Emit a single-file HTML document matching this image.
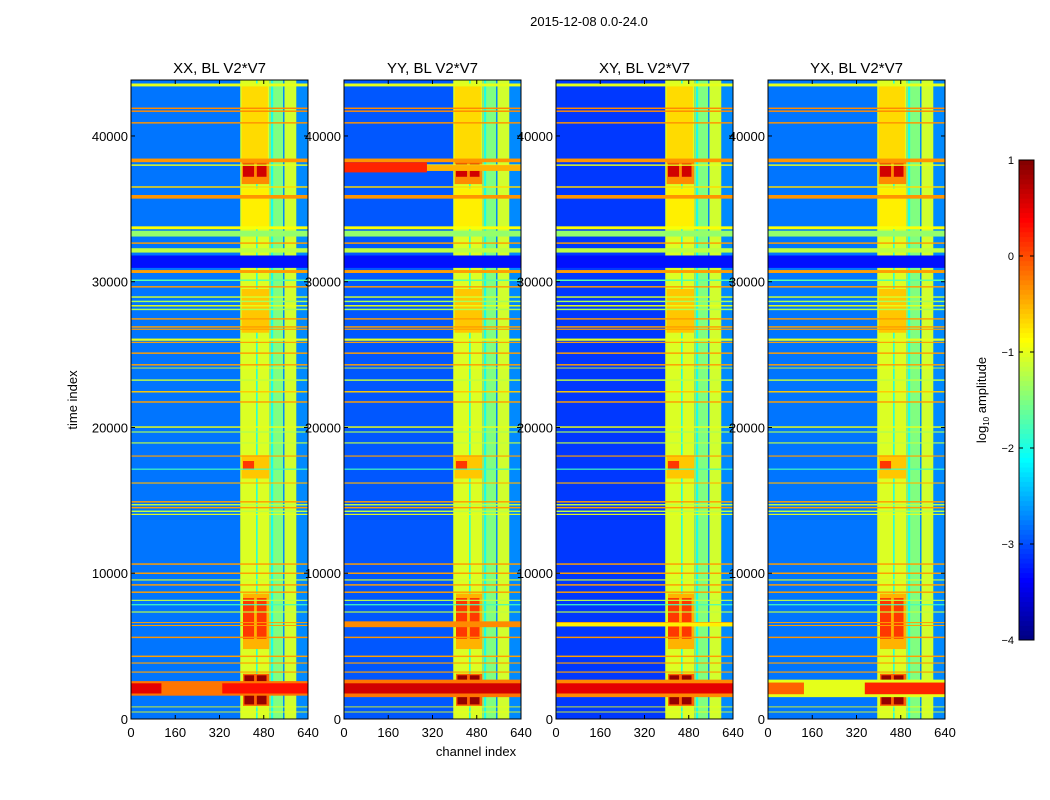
<!DOCTYPE html>
<html><head><meta charset="utf-8">
<style>
html,body{margin:0;padding:0;background:#fff;width:1050px;height:800px;overflow:hidden;font-family:"Liberation Sans",sans-serif;}
svg text{font-family:"Liberation Sans",sans-serif;}
</style></head>
<body>
<svg id="fig" width="1050" height="800" viewBox="0 0 1050 800" xmlns="http://www.w3.org/2000/svg">
<rect x="0" y="0" width="1050" height="800" fill="#fff"/>
<text x="589" y="26" font-size="13" text-anchor="middle">2015-12-08 0.0-24.0</text>
<text x="77" y="400" font-size="13" text-anchor="middle" transform="rotate(-90 77 400)">time index</text>
<text x="476" y="756" font-size="13" text-anchor="middle">channel index</text>
<g id="panels"></g>
<g id="cbar"></g>
</svg>
<script>
// ---- data ----
const panelTitles = ["XX, BL V2*V7","YY, BL V2*V7","XY, BL V2*V7","YX, BL V2*V7"];
const panelBackground = [-2.8, -2.95, -3.1, -2.8];
const xTicks = [0,160,320,480,640];
const yTicks = [0,10000,20000,30000,40000];
const cbarTicks = [1,0,-1,-2,-3,-4];
// channel columns: [ch0, ch1, log amplitude]
const columns = [[395,500,-1.05],[500,512,-1.5],[505,511,-0.5],[512,550,-1.5],[555,598,-1.1],[598,640,-2.7]];
const columnGaps = [[452,458,-1.9],[506,514,-2.0],[550,555,-2.7]];
// blocks inside columns: [ch0, ch1, t0, t1, level]
const blocks = [
 [400,495,38400,43600,-0.7],[400,500,36700,38300,-0.3],[405,445,37200,38100,0.6],[455,490,37200,38100,0.6],
 [400,500,33800,36400,-0.8],[400,500,26500,29500,-0.6],[400,500,16500,18100,-0.6],[405,445,17100,17700,0.1],
 [405,500,4800,8600,-0.5],[405,445,5500,8300,0.1],[455,490,5500,8300,0.1],[405,500,900,3100,-0.1],[410,445,1000,3000,0.9],[455,490,1000,3000,0.9]
];
// full-width time bands: [t0, t1, level]
const bands = [
 [43400,43600,-1.0],[41850,41950,-0.3],[41650,41750,-0.3],[40850,40950,-0.35],[38200,38450,-0.35],[37950,38050,-1.0],
 [36450,36550,-0.7],[35700,35950,-0.35],[33600,33800,-0.9],[33100,33500,-1.4],[32600,32700,-0.4],[32000,32300,-1.2],
 [30950,31800,-3.3],[30600,30800,-0.4],[30050,30150,-1.7],[29600,29700,-0.4],[28900,29000,-1.1],[28600,28700,-1.3],
 [28300,28400,-1.0],[28050,28150,-1.3],[27400,27500,-0.4],[26850,26950,-0.4],[26700,26780,-0.4],[25950,26100,-1.0],
 [25800,25880,-0.4],[25050,25150,-0.4],[24250,24350,-0.4],[24050,24110,-1.0],[23200,23300,-1.2],[22400,22500,-0.6],
 [21700,21800,-0.4],[19980,20080,-1.0],[19650,19730,-1.3],[18900,18980,-1.2],[18000,18080,-0.4],[17100,17180,-1.8],
 [16150,16230,-0.5],[14850,14950,-0.4],[14650,14750,-1.2],[14450,14550,-0.4],[14200,14300,-1.2],[14000,14080,-1.0],
 [10580,10680,-0.4],[9950,10050,-0.4],[9500,9580,-1.1],[9150,9250,-0.4],[8650,8750,-0.4],[8100,8180,-1.2],
 [7800,7880,-1.8],[7300,7380,-1.2],[6580,6650,-0.4],[6380,6450,-0.4],[5550,5650,-0.35],[4250,4350,-0.4],
 [3800,3880,-0.4],[3180,3260,-0.4],[800,860,-1.0],[450,510,-1.0]
];
// per-panel blobs: [panel, ch0, ch1, t0, t1, level]
const blobs = [
 [0,0,640,1600,2600,-0.2],[0,0,110,1750,2450,0.5],[0,330,640,1750,2450,0.3],
 [1,0,640,1500,2700,-0.2],[1,0,640,1750,2450,0.6],[1,0,640,6300,6700,-0.3],[1,0,300,37500,38200,0.2],[1,300,640,37600,38000,-0.5],
 [2,0,640,1500,2700,-0.3],[2,0,640,1750,2450,0.5],[2,0,640,6350,6600,-0.8],
 [3,0,640,1500,2700,-1.0],[3,0,130,1700,2500,-0.1],[3,350,640,1700,2500,0.2]
];
// ---- geometry ----
const panelX = [131,344,556,768];
const PW = 177, PT = 80, PB = 719, TMAX = 43840, CMAX = 640;
const NS = "http://www.w3.org/2000/svg";
function clamp(v){return Math.max(0,Math.min(1,v));}
function jet(v){const t=clamp((v+4)/5);const r=clamp(1.5-Math.abs(4*t-3)),g=clamp(1.5-Math.abs(4*t-2)),b=clamp(1.5-Math.abs(4*t-1));
 return "rgb("+Math.round(r*255)+","+Math.round(g*255)+","+Math.round(b*255)+")";}
function mk(tag,attrs,parent){const e=document.createElementNS(NS,tag);for(const k in attrs)e.setAttribute(k,attrs[k]);parent.appendChild(e);return e;}
const panelsG=document.getElementById('panels');
panelTitles.forEach((title,p)=>{
 const x0=panelX[p];
 const xs=c=>x0+c/CMAX*PW;
 const ys=t=>PB-t/TMAX*(PB-PT);
 const g=mk('g',{},panelsG);
 
 
 const bg=mk('rect',{x:x0,y:PT,width:PW,height:PB-PT,fill:jet(panelBackground[p])},g);
 
 
 function cell(c0,c1,t0,t1,v,name){const r=mk('rect',{x:xs(c0),y:ys(t1),width:Math.max(0.5,xs(c1)-xs(c0)),height:Math.max(0.8,ys(t0)-ys(t1)),fill:jet(v)},g);
  
  }
 columns.forEach(c=>cell(c[0],c[1],0,TMAX,c[2],'channel-column'));
 columnGaps.forEach(c=>cell(c[0],c[1],0,TMAX,c[2],'channel-gap'));
 blocks.forEach(b=>cell(b[0],b[1],b[2],b[3],b[4],'heatmap-block'));
 bands.forEach(b=>cell(0,CMAX,b[0],b[1],b[2],'time-band'));
 blobs.filter(b=>b[0]===p).forEach(b=>cell(b[1],b[2],b[3],b[4],b[5],'rfi-blob'));
 const fr=mk('rect',{x:x0,y:PT,width:PW,height:PB-PT,fill:'none',stroke:'#000','stroke-width':1},g);
 
 
 const tt=mk('text',{x:x0+PW/2,y:73,'font-size':15,'text-anchor':'middle'},g);tt.textContent=title;
 
 
 xTicks.forEach(v=>{const x=xs(v);
  mk('line',{x1:x,x2:x,y1:PB,y2:PB-4,stroke:'#000'},g);mk('line',{x1:x,x2:x,y1:PT,y2:PT+4,stroke:'#000'},g);
  const t=mk('text',{x:x,y:737,'font-size':13,'text-anchor':'middle'},g);t.textContent=v;
  
  });
 yTicks.forEach(v=>{const y=ys(v);
  mk('line',{x1:x0,x2:x0+4,y1:y,y2:y,stroke:'#000'},g);mk('line',{x1:x0+PW,x2:x0+PW-4,y1:y,y2:y,stroke:'#000'},g);
  const t=mk('text',{x:x0-3,y:y+5,'font-size':13,'text-anchor':'end'},g);t.textContent=v;
  
  });
});
// colorbar
const cb=document.getElementById('cbar');


const CX=1019,CW=15,CT=160,CBB=640;
const cy=v=>CBB-(v+4)/5*(CBB-CT);
for(let i=0;i<100;i++){const v0=-4+i*0.05;
 mk('rect',{x:CX,y:cy(v0+0.05)-0.3,width:CW,height:(CBB-CT)/100+0.6,fill:jet(v0+0.025)},cb);}
mk('rect',{x:CX,y:CT,width:CW,height:CBB-CT,fill:'none',stroke:'#000'},cb);
cbarTicks.forEach(v=>{const y=cy(v);
 mk('line',{x1:CX,x2:CX+4,y1:y,y2:y,stroke:'#000'},cb);mk('line',{x1:CX+CW,x2:CX+CW-4,y1:y,y2:y,stroke:'#000'},cb);
 const t=mk('text',{x:CX-5,y:y+4,'font-size':11,'text-anchor':'end'},cb);t.textContent=(v<0?'\u2212'+(-v):v);
 
 });
const cl=mk('text',{x:986,y:400,'font-size':13,'text-anchor':'middle',transform:'rotate(-90 986 400)'},cb);
cl.innerHTML='log<tspan font-size="8" dy="3">10</tspan><tspan dy="-3"> amplitude</tspan>';


</script>
</body></html>
